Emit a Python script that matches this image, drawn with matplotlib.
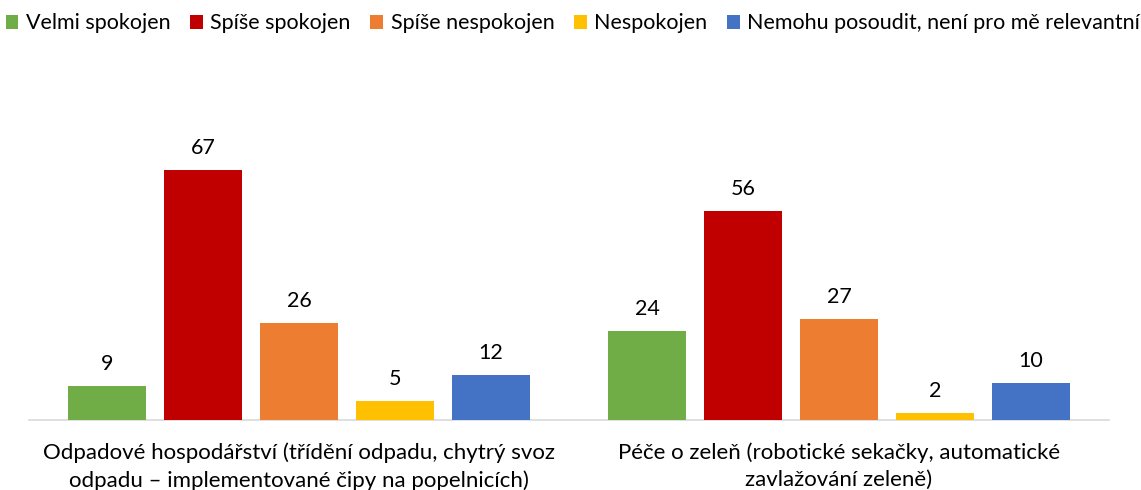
import matplotlib.pyplot as plt
import numpy as np

plt.rcParams['font.family'] = ['Lato', 'DejaVu Sans']

categories = ["Odpadové hospodářství (třídění odpadu, chytrý svoz\nodpadu – implementované čipy na popelnicích)",
              "Péče o zeleň (robotické sekačky, automatické\nzavlažování zeleně)"]
series = ["Velmi spokojen", "Spíše spokojen", "Spíše nespokojen", "Nespokojen",
          "Nemohu posoudit, není pro mě relevantní"]
values = [[9, 24], [67, 56], [26, 27], [5, 2], [12, 10]]
colors = ["#70AD47", "#C00000", "#ED7D31", "#FFC000", "#4472C4"]

fig = plt.figure(figsize=(11.41, 4.9), dpi=100)
ax = fig.add_axes([0.0254, 0.1429, 0.9466, 0.6082])

x = np.arange(len(categories))
width = 0.1444
pitch = 0.1778
for i, (name, vals, c) in enumerate(zip(series, values, colors)):
    pos = x + (i - 2) * pitch
    bars = ax.bar(pos, vals, width, color=c, label=name, zorder=3)
    for b, v in zip(bars, vals):
        ax.annotate(str(v), (b.get_x() + b.get_width() / 2, v), xytext=(0, 12),
                    textcoords='offset pixels', ha='center', va='bottom', fontsize=15.5)

ax.set_xlim(-0.5, 1.5)
ax.set_ylim(0, 80)
ax.set_yticks([])
ax.set_xticks(x)
ax.set_xticklabels(categories, fontsize=16, linespacing=1.45)
ax.tick_params(axis='x', length=0, pad=16)
for s in ['top', 'right', 'left']:
    ax.spines[s].set_visible(False)
ax.spines['bottom'].set_color('#D9D9D9')
ax.spines['bottom'].set_linewidth(1.2)

fig.legend(loc='upper center', bbox_to_anchor=(0.502, 1.012), ncol=5, frameon=False,
           fontsize=15.5, handlelength=0.6, handleheight=0.6, handletextpad=0.35,
           columnspacing=0.9)

fig.savefig('out.png', dpi=100)
